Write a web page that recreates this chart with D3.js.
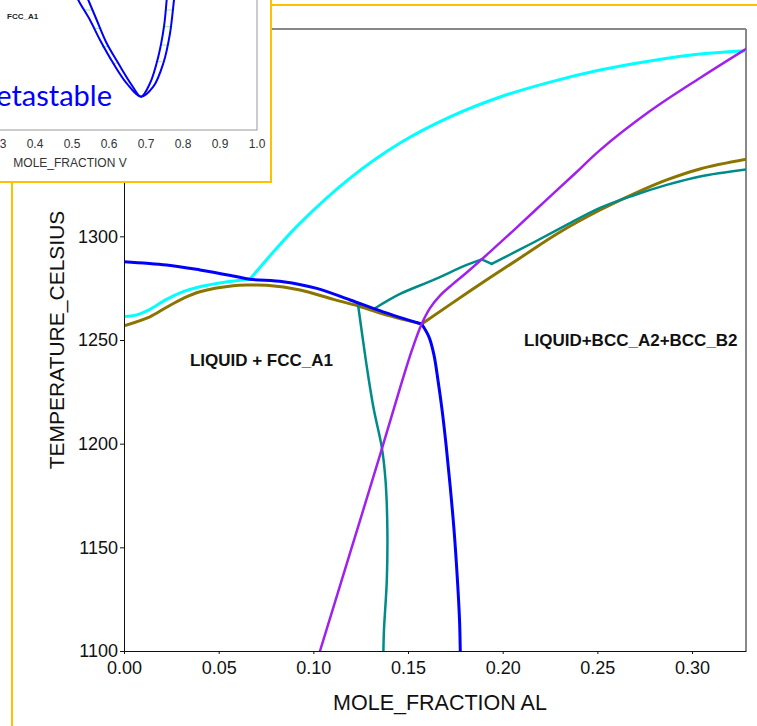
<!DOCTYPE html>
<html>
<head>
<meta charset="utf-8">
<script src="https://cdn.jsdelivr.net/npm/d3@7"></script>
<style>
  body { margin: 0; background: #fff; }
  svg { display: block; }
</style>
</head>
<body>
<svg id="chart" width="757" height="726"></svg>
<script>
// ---- main diagram data: [mole fraction Al, temperature C] ----
var cyanLow = [[0, 1261.3], [0.0067, 1262.1], [0.0137, 1264.8], [0.0225, 1269.6], [0.0313, 1273.3],
  [0.0401, 1275.7], [0.0490, 1277.3], [0.0577, 1278.4], [0.0665, 1279.3]];
var cyanHigh = [[0.0665, 1279.3], [0.0798, 1293.4], [0.0930, 1306.4], [0.1194, 1328.1], [0.1458, 1345.0],
  [0.1722, 1357.6], [0.1986, 1367.2], [0.2250, 1374.4], [0.2514, 1380.2], [0.2778, 1384.6],
  [0.3042, 1387.9], [0.3285, 1389.5]];

var blueTop = [[0, 1287.8], [0.0225, 1286.2], [0.0401, 1283.8], [0.0576, 1280.9], [0.0665, 1279.3],
  [0.0840, 1278.1], [0.1018, 1274.9], [0.1194, 1269.3], [0.1368, 1263.6], [0.1572, 1257.7]];
var blueDown = [[0.1572, 1257.7], [0.1611, 1251.4], [0.1637, 1242.8], [0.1658, 1230.7], [0.1680, 1216.2],
  [0.1701, 1199.4], [0.1722, 1180.1], [0.1743, 1158.4], [0.1761, 1134.2], [0.1772, 1115.0], [0.1776, 1100]];

var oliveLeft = [[0, 1256.9], [0.0137, 1261.2], [0.0225, 1265.8], [0.0313, 1270.1], [0.0401, 1273.3],
  [0.0577, 1276.2], [0.0665, 1276.5], [0.0753, 1276.4], [0.0930, 1274.1], [0.1106, 1269.6],
  [0.1238, 1266.4], [0.1370, 1262.5], [0.1572, 1257.7]];
var oliveRight = [[0.1572, 1257.7], [0.1827, 1273.6], [0.2092, 1289.6], [0.2303, 1302.1], [0.2514, 1312.7],
  [0.2690, 1320.4], [0.2866, 1327.2], [0.3042, 1332.5], [0.3289, 1337.2]];

var tealRise = [[0.1326, 1265.3], [0.1458, 1272.2], [0.1632, 1278.9], [0.1810, 1286.2], [0.1889, 1288.9]];
var tealKink = [[0.1889, 1288.9], [0.1942, 1286.7]];
var tealUpper = [[0.1942, 1286.7], [0.2160, 1296.9], [0.2338, 1305.5], [0.2514, 1313.7], [0.2690, 1319.7],
  [0.2866, 1324.8], [0.3042, 1328.9], [0.3289, 1332.3]];
var tealDown = [[0.1237, 1266.4], [0.1262, 1250.0], [0.1289, 1233.1], [0.1320, 1216.2], [0.1361, 1198.5],
  [0.1381, 1182.5], [0.1391, 1158.4], [0.1388, 1134.2], [0.1373, 1110.1], [0.1370, 1100]];

var purple = [[0.1035, 1100], [0.1194, 1147.3], [0.1352, 1194.5], [0.1458, 1226.9], [0.1521, 1245.2],
  [0.1572, 1257.7], [0.1616, 1265.4], [0.1669, 1271.4], [0.1733, 1276.7], [0.1807, 1282.3],
  [0.1933, 1292.5], [0.2065, 1303.5], [0.2224, 1317.0], [0.2382, 1330.3], [0.2514, 1341.6],
  [0.2778, 1360.4], [0.3042, 1376.4], [0.3289, 1390.6]];

var xTicks = [0, 0.05, 0.10, 0.15, 0.20, 0.25, 0.30];
var yTicks = [1100, 1150, 1200, 1250, 1300, 1350, 1400];
var regionLabels = [{text: "LIQUID + FCC_A1", x: 0.0348, t: 1237.5},
  {text: "LIQUID+BCC_A2+BCC_B2", x: 0.2113, t: 1247.1}];

// ---- inset data: [mole fraction V, temperature] ----
var insetOuter = [[0.5, 1290], [0.517, 1260], [0.5486, 1220], [0.5757, 1180], [0.6116, 1133.4],
  [0.6478, 1093.4], [0.6865, 1066.6], [0.7197, 1086.6], [0.7468, 1133.4], [0.7649, 1193.4],
  [0.7757, 1260], [0.7811, 1290]];
var insetInner = [[0.527, 1290], [0.5441, 1260], [0.5668, 1220], [0.5938, 1173.4], [0.6251, 1133.4],
  [0.6613, 1090], [0.6865, 1066.6], [0.7108, 1093.4], [0.7332, 1146.6], [0.7486, 1206.6],
  [0.7559, 1260], [0.7595, 1290]];
var insetTies = [[0.5351, 0.5576, 1240], [0.5576, 0.5757, 1203.4], [0.5803, 0.5981, 1166.6], [0.6073, 0.6208, 1133.4],
  [0.7559, 0.7738, 1240], [0.7514, 0.7668, 1206.6], [0.7378, 0.7559, 1170], [0.7289, 0.7424, 1136.6]];
var insetTicks = [0.3, 0.4, 0.5, 0.6, 0.7, 0.8, 0.9, 1.0];

var svg = d3.select("#chart");
var font = "'Liberation Sans', Arial, sans-serif";
var orange = "#FFC000";

// outer slide frame
svg.append("rect").attr("x", 12).attr("y", 5).attr("width", 800).attr("height", 800)
  .attr("fill", "none").attr("stroke", orange).attr("stroke-width", 2);

var x = d3.scaleLinear().domain([0, 0.3285]).range([124, 746]);
var y = d3.scaleLinear().domain([1100, 1400]).range([651, 29]);

svg.append("clipPath").attr("id", "plotClip").append("rect")
  .attr("x", 124).attr("y", 29).attr("width", 622).attr("height", 622);

// frame top and right
svg.append("line").attr("x1", 124).attr("x2", 746).attr("y1", 29).attr("y2", 29)
  .attr("stroke", "#111").attr("stroke-width", 1);
svg.append("line").attr("x1", 746).attr("x2", 746).attr("y1", 29).attr("y2", 651)
  .attr("stroke", "#888").attr("stroke-width", 2);

var line = d3.line().x(d => x(d[0])).y(d => y(d[1])).curve(d3.curveCatmullRom.alpha(0.5));
var curves = svg.append("g").attr("clip-path", "url(#plotClip)").attr("fill", "none")
  .attr("stroke-linejoin", "round").attr("stroke-linecap", "round");

var series = [
  [cyanLow, "#00FFFF", 3], [cyanHigh, "#00FFFF", 3],
  [oliveLeft, "#8B7500", 3], [oliveRight, "#8B7500", 3],
  [tealRise, "#008B8B", 2.5], [tealKink, "#008B8B", 2.5], [tealUpper, "#008B8B", 2.5], [tealDown, "#008B8B", 2.5],
  [blueTop, "#0000FF", 3], [blueDown, "#0000FF", 3],
  [purple, "#A020F0", 2.5]
];
series.forEach(function(s) {
  curves.append("path").attr("d", line(s[0])).attr("stroke", s[1]).attr("stroke-width", s[2]);
});

// axes
var xAxis = svg.append("g").attr("transform", "translate(0,651)")
  .call(d3.axisBottom(x).tickValues(xTicks).tickFormat(d3.format(".2f")).tickSizeInner(3).tickSizeOuter(0).tickPadding(7));
var yAxis = svg.append("g").attr("transform", "translate(124,0)")
  .call(d3.axisLeft(y).tickValues(yTicks).tickFormat(d3.format("d")).tickSizeInner(4).tickSizeOuter(0).tickPadding(2));
[xAxis, yAxis].forEach(function(a) {
  a.select(".domain").attr("stroke", "#111");
  a.selectAll(".tick line").attr("stroke", "#111");
  a.selectAll("text").attr("font-family", font).attr("font-size", 18).attr("fill", "#111");
});

svg.append("text").attr("x", 440).attr("y", 710).attr("text-anchor", "middle")
  .attr("font-family", font).attr("font-size", 21.5).attr("fill", "#111").text("MOLE_FRACTION AL");
svg.append("text").attr("transform", "translate(64,340) rotate(-90)").attr("text-anchor", "middle")
  .attr("font-family", font).attr("font-size", 21).attr("fill", "#111").text("TEMPERATURE_CELSIUS");

svg.selectAll(".region").data(regionLabels).enter().append("text")
  .attr("x", d => x(d.x)).attr("y", d => y(d.t))
  .attr("font-family", font).attr("font-size", 17).attr("font-weight", "bold").attr("fill", "#111")
  .text(d => d.text);

// ---- inset (overlapping slide) ----
var inset = svg.append("g");
inset.append("rect").attr("x", -10).attr("y", -10).attr("width", 281).attr("height", 192)
  .attr("fill", "#fff").attr("stroke", orange).attr("stroke-width", 2);

var ix = d3.scaleLinear().domain([0, 1]).range([-113, 257]);
var iy = d3.scaleLinear().domain([1000, 1500]).range([130, -120]);

inset.append("rect").attr("x", ix(0)).attr("y", -200).attr("width", ix(1) - ix(0)).attr("height", 330)
  .attr("fill", "none").attr("stroke", "#999").attr("stroke-width", 1);

var iline = d3.line().x(d => ix(d[0])).y(d => iy(d[1])).curve(d3.curveCatmullRom.alpha(0.5));
inset.selectAll(".tie").data(insetTies).enter().append("line")
  .attr("x1", d => ix(d[0])).attr("x2", d => ix(d[1])).attr("y1", d => iy(d[2])).attr("y2", d => iy(d[2]))
  .attr("stroke", "#90EE90").attr("stroke-width", 1);
[insetOuter, insetInner].forEach(function(c) {
  inset.append("path").attr("d", iline(c)).attr("fill", "none").attr("stroke", "#0000FF").attr("stroke-width", 2);
});

inset.selectAll(".itick").data(insetTicks).enter().append("text")
  .attr("x", d => ix(d)).attr("y", 148).attr("text-anchor", "middle")
  .attr("font-family", font).attr("font-size", 12).attr("fill", "#333")
  .text(d => d3.format(".1f")(d));
inset.append("text").attr("x", 70).attr("y", 167).attr("text-anchor", "middle")
  .attr("font-family", font).attr("font-size", 12).attr("fill", "#333").text("MOLE_FRACTION V");
inset.append("text").attr("x", 7).attr("y", 19)
  .attr("font-family", font).attr("font-size", 8).attr("font-weight", "bold").attr("fill", "#222").text("FCC_A1");
inset.append("text").attr("x", 112).attr("y", 106).attr("text-anchor", "end")
  .attr("font-family", "Lato, 'Open Sans', sans-serif").attr("font-size", 29).attr("fill", "#0000FF").text("Metastable");
</script>
</body>
</html>
